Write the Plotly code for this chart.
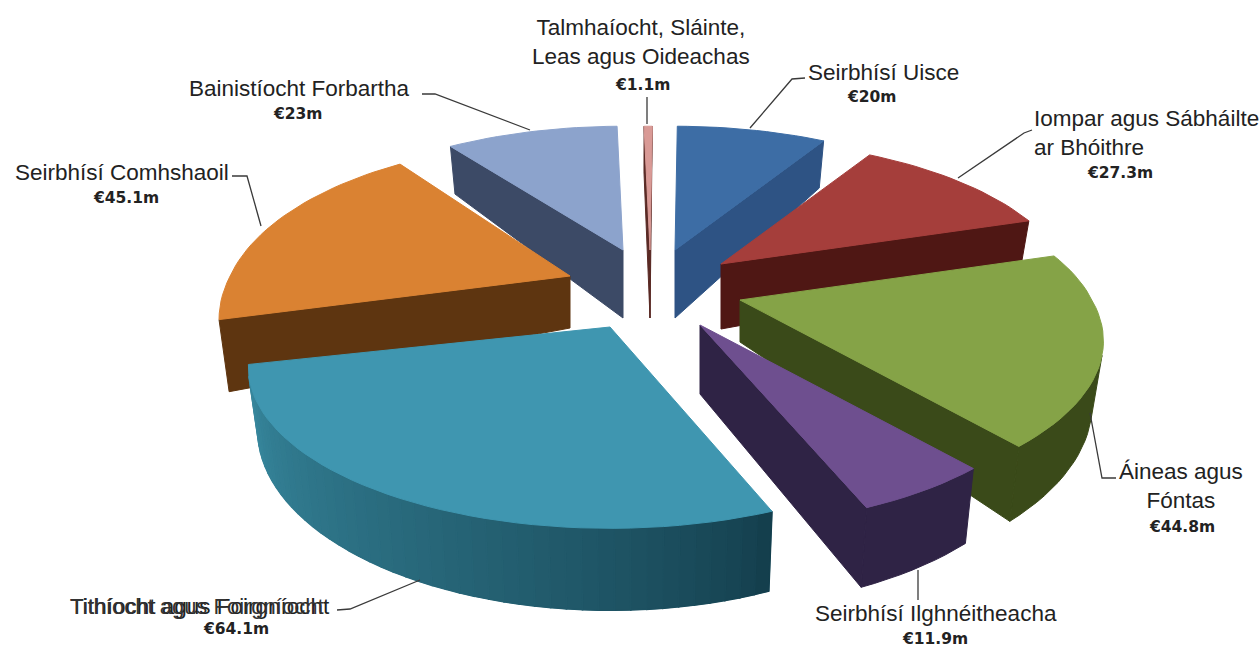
import math
import plotly.graph_objects as go

# --- data ---
categories = ["Talmhaíocht, Sláinte,<br>Leas agus Oideachas", "Seirbhísí Uisce",
              "Iompar agus Sábháilte<br>ar Bhóithre", "Áineas agus<br>Fóntas",
              "Seirbhísí Ilghnéitheacha", "Tithíocht agus Foirgníocht",
              "Seirbhísí Comhshaoil", "Bainistíocht Forbartha"]
values = [1.1, 20, 27.3, 44.8, 11.9, 64.1, 45.1, 23]

# --- styling / layout ---
top_colors = ["#d99a96", "#3d6da5", "#a53e3b", "#85a347", "#6e4f8f", "#3f96b0", "#da8232", "#8ca3cc"]
side_colors = ["#5a2a25", "#2e5384", "#4f1714", "#3a4a19", "#2f2345", "#2d7388", "#5e3510", "#3c4a66"]
tips = [(650, 250), (675, 250), (721, 264), (740, 300), (700, 325), (610, 327), (570, 276), (623, 250)]
tip_heights = [68, 68, 65, 42, 69, 60, 52, 68]
x_scale = [1, 1, 1, 1.02, 1, 1.015, 0.985, 1]
y_scale = [1, 1, 1, 1.02, 1, 1.0, 1.08, 1]
wall_scale = [1, 1, 1, 1, 1, 1, 1.15, 1]
angle_nudge = [0, 0, 0, 0, 0, 1, 0, 0]
draw_order = [7, 1, 0, 6, 2, 3, 5, 4]
START = -1.2
RX, RY, K_BACK, K_FRONT, WALL = 345, 151, 0.22, 0.25, 58

def project(i, r, deg):
    a = math.radians(deg + angle_nudge[i])
    X, Y = r * math.sin(a), r * math.cos(a)
    w = 1 + (K_BACK if Y > 0 else K_FRONT) * Y
    return tips[i][0] + x_scale[i] * RX * X / w, tips[i][1] - y_scale[i] * RY * Y / w, Y, w

def bottom(i, r, deg):
    x, y, Y, w = project(i, r, deg)
    h = tip_heights[i] * (1 - r) + r * wall_scale[i] * WALL / w ** 1.2
    return x - 0.024 * (x - 640) * r, y + h

def area(pts):
    return sum(pts[i][0] * pts[(i + 1) % len(pts)][1] - pts[(i + 1) % len(pts)][0] * pts[i][1]
               for i in range(len(pts)))

def mix(c1, c2, t):
    a = [int(c1[i:i + 2], 16) for i in (1, 3, 5)]
    b = [int(c2[i:i + 2], 16) for i in (1, 3, 5)]
    return "rgb(%d,%d,%d)" % tuple(round(p + (q - p) * t) for p, q in zip(a, b))

fig = go.Figure()

def poly(pts, color, width=1.0):
    fig.add_trace(go.Scatter(x=[p[0] for p in pts] + [pts[0][0]], y=[p[1] for p in pts] + [pts[0][1]],
                             mode="lines", fill="toself", fillcolor=color,
                             line=dict(color=color, width=width), hoverinfo="skip", showlegend=False))

total = sum(values)
edges = [START]
for v in values:
    edges.append(edges[-1] + 360 * v / total)

for i in draw_order:
    t0, t1 = edges[i], edges[i + 1]
    n = max(3, int((t1 - t0) / 2))
    angs = [t0 + (t1 - t0) * j / n for j in range(n + 1)]
    # outer wall: solid base first, so that no seams show
    vis = []
    for j in range(n):
        a, b = angs[j], angs[j + 1]
        q = [project(i, 1, a)[:2], project(i, 1, b)[:2], bottom(i, 1, b), bottom(i, 1, a)]
        if area(q) < 0:
            vis.append((j, a, b, q))
    if vis:
        run = [vis[0][1]] + [v_[2] for v_ in vis]
        base = [project(i, 1, a)[:2] for a in run] + [bottom(i, 1, a) for a in reversed(run)]
        poly(base, side_colors[i])
    if i == 5:  # shaded wall of the largest slice
        for j, a, b, q in vis:
            poly(q, mix("#143f4d", "#38899f", (j / (n - 1)) ** 0.8), 1.6)
    # radial faces
    for deg, flip in ((t0, False), (t1, True)):
        A = project(i, 0, deg)[:2]; B = project(i, 1, deg)[:2]
        Ab = bottom(i, 0, deg); Bb = bottom(i, 1, deg)
        q = [B, A, Ab, Bb] if flip else [A, B, Bb, Ab]
        if area(q) < 0:
            poly(q, side_colors[i])
    # top face
    poly([project(i, 0, t0)[:2]] + [project(i, 1, a)[:2] for a in angs], top_colors[i])

# leader lines
leaders = [[(647, 97), (647, 124)], [(805, 78), (792, 79), (750, 128)], [(1032, 130), (1024, 133), (958, 178)],
           [(1116, 478), (1102, 478), (1090, 413)], [(918, 570), (918, 600)], [(337, 610), (350, 609), (420, 580)],
           [(232, 176), (247, 176), (261, 226)], [(422, 94), (435, 94), (530, 130)]]
for L in leaders:
    fig.add_trace(go.Scatter(x=[p[0] for p in L], y=[p[1] for p in L], mode="lines",
                             line=dict(color="#3a3a3a", width=1.3), hoverinfo="skip", showlegend=False))

# labels: x, y, anchor for name; x, y for value
name_pos = [(641, 42, "center"), (806, 72, "left"), (1032, 133, "left"), (1181, 486, "center"),
            (936, 613, "center"), (68, 606, "left"), (13, 172, "left"), (187, 88, "left")]
value_pos = [(642, 85), (872, 97), (1120, 173), (1182, 527), (935, 639), (236, 629), (126, 198), (298, 114)]
NAME_FONT = dict(family="Liberation Sans", size=22.5, color="#222222")
VALUE_FONT = dict(family="DejaVu Sans", size=15.5, color="#222222")
ann = []
for c, v, np_, vp in zip(categories, values, name_pos, value_pos):
    ann.append(dict(x=np_[0], y=np_[1], text=c, xanchor=np_[2], yanchor="middle", showarrow=False,
                    align=np_[2], font=NAME_FONT))
    ann.append(dict(x=vp[0], y=vp[1], text="<b>€%gm</b>" % v, xanchor="center", yanchor="middle",
                    showarrow=False, font=VALUE_FONT))
# the reference prints this label twice, slightly misregistered
ann.append(dict(x=name_pos[5][0], y=name_pos[5][1], text=categories[5], xanchor="left", yanchor="middle",
                showarrow=False, font=dict(family="Liberation Sans", size=22, color="#333333")))

fig.update_layout(width=1260, height=647, autosize=False, margin=dict(l=0, r=0, t=0, b=0),
                  paper_bgcolor="white", plot_bgcolor="white", annotations=ann,
                  xaxis=dict(range=[0, 1260], visible=False, fixedrange=True),
                  yaxis=dict(range=[647, 0], visible=False, fixedrange=True))
fig.write_html("out.html", config=dict(displayModeBar=False),
               post_script="document.body.style.margin='0';document.body.style.overflow='hidden';")
